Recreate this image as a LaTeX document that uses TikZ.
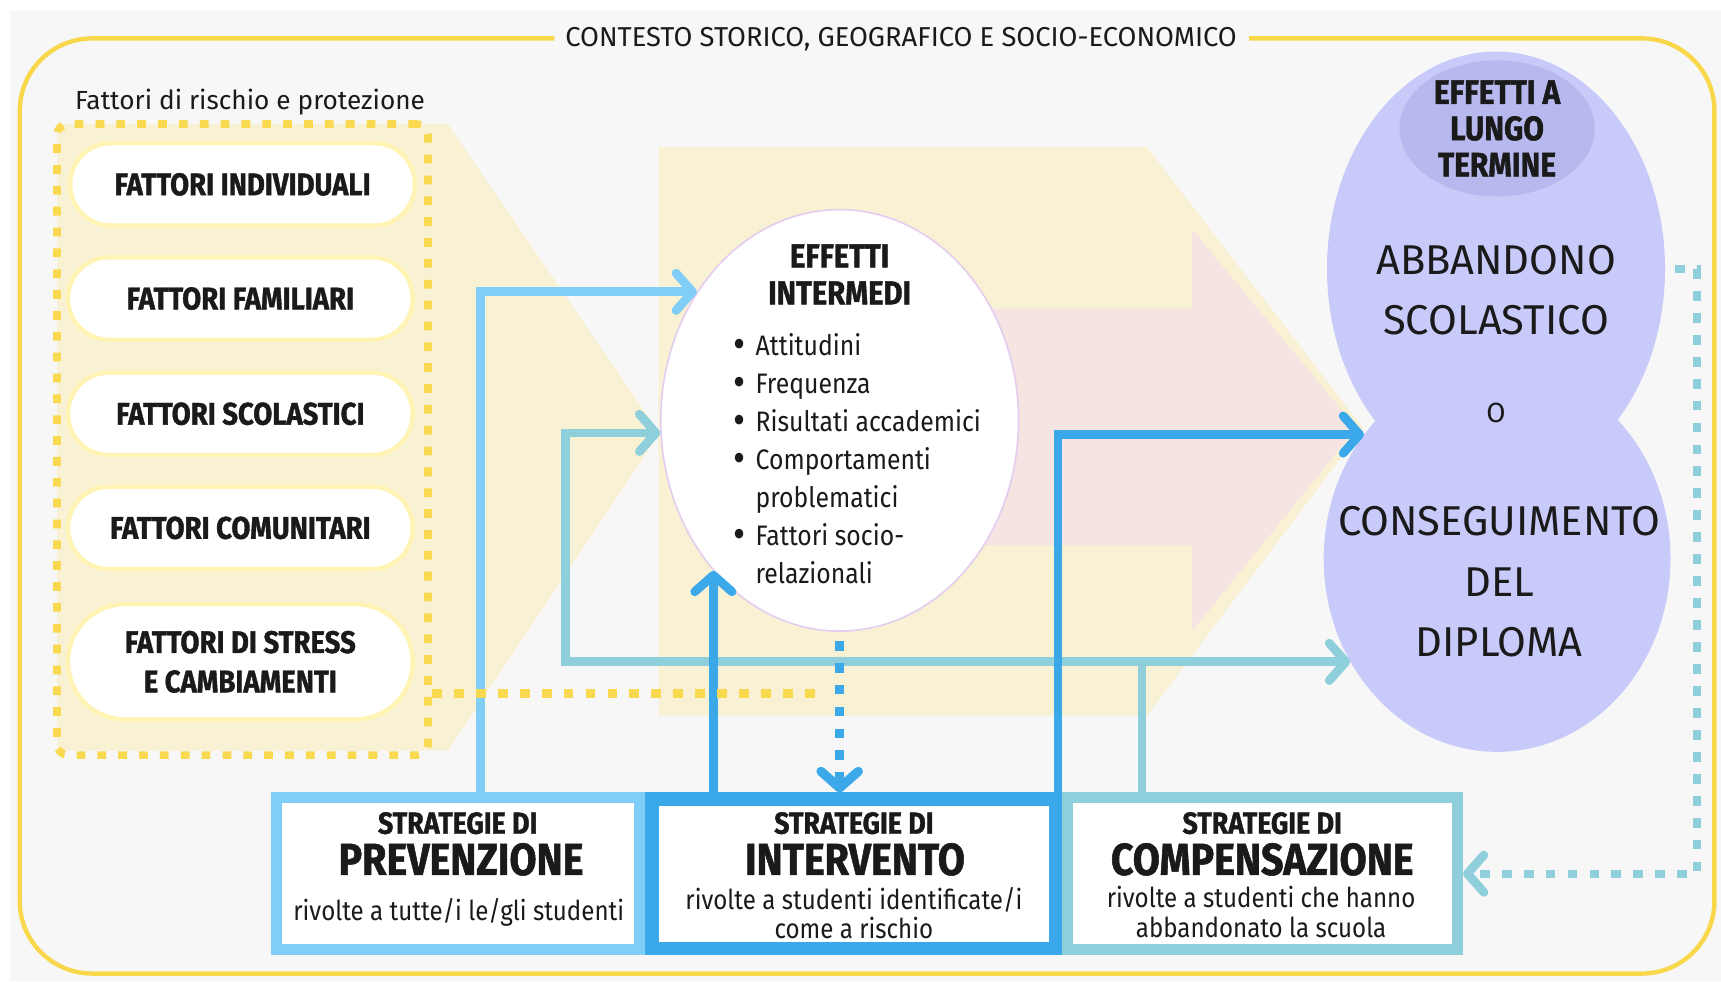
\documentclass[tikz,border=0pt]{standalone}
\usepackage{fontspec}
\setmainfont{Fira Sans}
\newfontfamily\condf[FakeStretch=0.88]{Fira Sans}
\newfontfamily\condb[FakeStretch=0.88,FakeBold=1.2]{Fira Sans}
\usetikzlibrary{shapes.geometric,arrows.meta,calc}
\definecolor{bg}{HTML}{F7F7F7}
\definecolor{framey}{HTML}{F8D74B}
\definecolor{lyel}{HTML}{F9F1D4}
\definecolor{lpink}{HTML}{F5E4E2}
\definecolor{dotyel}{HTML}{F9D94F}
\definecolor{pillline}{HTML}{FFF4B3}
\definecolor{cprev}{HTML}{80CEF8}
\definecolor{cint}{HTML}{3AA8E9}
\definecolor{ccomp}{HTML}{8FCFDB}
\definecolor{lav}{HTML}{C8CAFA}
\definecolor{lavd}{HTML}{B7B9EE}
\definecolor{ellb}{HTML}{E5CDEF}
\definecolor{txt}{HTML}{1A1A1A}
\newcommand\upx{0.05cm}
\newcommand\bul{\makebox[1.0cm][l]{\raisebox{-4pt}{\scalebox{1.5}{•}}}}
\newcommand\nobul{\makebox[1.0cm][l]{}}
\tikzset{
  every node/.style={text=txt},
  pill/.style={draw=pillline, line width=4*\upx, fill=white, rounded corners=37*\upx,
    minimum width=314*\upx, minimum height=75*\upx, inner sep=0pt, align=center,
    font=\condb\bfseries\fontsize{40.5pt}{51pt}\selectfont},
  sbox/.style={line width=10*\upx, fill=white, inner sep=0pt},
  arr/.style={line width=0.4cm, -{Straight Barb[length=0.75cm, width=1.7cm, round]}},
  dotarr/.style={line width=0.42cm, dash pattern=on 0.45cm off 0.55cm, -{Straight Barb[length=0.75cm, width=1.7cm, round]}},
  tdotarr/.style={line width=0.35cm, dash pattern=on 0.45cm off 0.55cm, -{Straight Barb[length=0.75cm, width=1.7cm, round, line width=0.4cm]}},
  ydot/.style={draw=dotyel, line width=0.42cm, dash pattern=on 0.45cm off 0.55cm},
  strf/.style={font=\condb\bfseries\fontsize{39.5pt}{44pt}\selectfont},
  namef/.style={font=\condb\bfseries\fontsize{58pt}{60pt}\selectfont},
  rivf/.style={font=\condf\fontsize{35.5pt}{38.5pt}\selectfont, align=center},
  bigf/.style={font=\fontsize{54pt}{78pt}\selectfont, align=center},
}
\begin{document}
\begin{tikzpicture}[x=0.05cm,y=-0.05cm]
\useasboundingbox (0,0) rectangle (1568,894);
\fill[white] (0,0) rectangle (1568,894);
\fill[bg] (9,10) rectangle (1568,894);
% frame
\draw[framey, line width=4*\upx, rounded corners=3.3cm] (505,35) -- (18,35) -- (18,887) -- (1562,887) -- (1562,35) -- (1138,35);
\node[font=\fontsize{35.4pt}{40pt}\selectfont] (title) at (821,36) {CONTESTO STORICO, GEOGRAFICO E SOCIO-ECONOMICO};
% background arrows
\fill[lyel] (52,113) -- (408,113) -- (601,395) -- (408,684) -- (52,684) -- cycle;
\fill[lyel] (600,134) -- (1045,134) -- (1242,390) -- (1045,652) -- (600,652) -- cycle;
\fill[lpink] (800,281) -- (1086,281) -- (1086,209) -- (1236,390) -- (1086,575) -- (1086,497) -- (800,497) -- cycle;
% factors
\node[draw=dotyel, line width=0.35cm, dash pattern=on 0.4cm off 0.55cm, rounded corners=0.5cm,
  minimum width=338*\upx, minimum height=575*\upx, inner sep=0pt] (fbox) at (221,400.5) {};
\node[anchor=west, font=\fontsize{34pt}{38pt}\selectfont] (ftitle) at (66,93) {Fattori di rischio e protezione};
\node[pill] (f1) at (221,168) {FATTORI INDIVIDUALI};
\node[pill] (f2) at (219,272) {FATTORI FAMILIARI};
\node[pill] (f3) at (219,377) {FATTORI SCOLASTICI};
\node[pill] (f4) at (219,481) {FATTORI COMUNITARI};
\node[pill, minimum height=105*\upx, rounded corners=52*\upx] (f5) at (219,603) {FATTORI DI STRESS\\E CAMBIAMENTI};
% intermediate effects
\node[ellipse, draw=ellb, line width=1.5*\upx, fill=white, minimum width=326*\upx, minimum height=384*\upx, inner sep=0pt] (ell) at (765,383) {};
\node[align=center, font=\condb\bfseries\fontsize{43pt}{48pt}\selectfont] (elt) at (765,250) {EFFETTI\\INTERMEDI};
\node[anchor=west, align=left, font=\condf\fontsize{36.5pt}{49.4pt}\selectfont] (bl) at (666,418)
 {\bul Attitudini\\ \bul Frequenza\\ \bul Risultati accademici\\
  \bul Comportamenti\\ \nobul problematici\\ \bul Fattori socio-\\ \nobul relazionali};
% long term effects
\node[ellipse, fill=lav, minimum width=308*\upx, minimum height=396*\upx, inner sep=0pt] (topell) at (1363,245) {};
\node[ellipse, fill=lav, minimum width=316*\upx, minimum height=352*\upx, inner sep=0pt] (botell) at (1364,509) {};
\node[ellipse, fill=lavd, minimum width=178*\upx, minimum height=124*\upx, inner sep=0pt, align=center,
  font=\condb\bfseries\fontsize{44pt}{47pt}\selectfont] (lt) at (1364,117) {EFFETTI A\\LUNGO\\TERMINE};
\node[bigf] (abb) at (1363,264) {ABBANDONO\\SCOLASTICO};
\node[font=\fontsize{36pt}{40pt}\selectfont] (oo) at (1363,376) {O};
\node[bigf] (cons) at (1366,530) {CONSEGUIMENTO\\DEL\\DIPLOMA};
% strategy boxes
\node[sbox, draw=cprev, minimum width=331*\upx, minimum height=138*\upx] (prev) at (417.5,796) {};
\node[sbox, draw=ccomp, minimum width=355*\upx, minimum height=138*\upx] (comp) at (1150.5,796) {};
\node[sbox, draw=cint, line width=12*\upx, minimum width=368*\upx, minimum height=136*\upx] (int) at (778,796) {};
\node[strf] (p1) at (417,750) {STRATEGIE DI};
\node[namef] (p2) at (420,783) {PREVENZIONE};
\node[rivf] (p3) at (418,831) {rivolte a tutte/i le/gli studenti};
\node[strf] (i1) at (778,750) {STRATEGIE DI};
\node[namef] (i2) at (779,783) {INTERVENTO};
\node[rivf] (i3) at (778,832) {rivolte a studenti identificate/i\\come a rischio};
\node[strf] (c1) at (1150,750) {STRATEGIE DI};
\node[namef] (c2) at (1150,783) {COMPENSAZIONE};
\node[rivf] (c3) at (1149,831) {rivolte a studenti che hanno\\abbandonato la scuola};
% connectors
\coordinate (tj) at ($(comp.north)+(-110,-119)$);
\coordinate (tl) at (515,603);
\draw[ccomp, line width=0.4cm] ([xshift=-110*\upx]comp.north) -- (tj);
\draw[arr, ccomp] (tj) -- (tl) |- (ell.184.9);
\draw[arr, ccomp] (tj) -- (tj -| botell.215.2);
\draw[arr, cprev] ([xshift=20*\upx]prev.north) |- (ell.138.5);
\draw[arr, cint] (ell.230.7 |- int.north) -- (ell.230.7);
\draw[arr, cint] ([xshift=-4*\upx]int.north east) |- (botell.137.4);
\draw[dotarr, cint] ([yshift=-8*\upx]ell.south) -- (ell.south |- int.north);
\draw[tdotarr, ccomp] ([xshift=9*\upx]topell.east) -- ++(20,0) |- (comp.east);
\draw[ydot] (fbox.east |- 0,632) -- (748,632);
\end{tikzpicture}
\end{document}
